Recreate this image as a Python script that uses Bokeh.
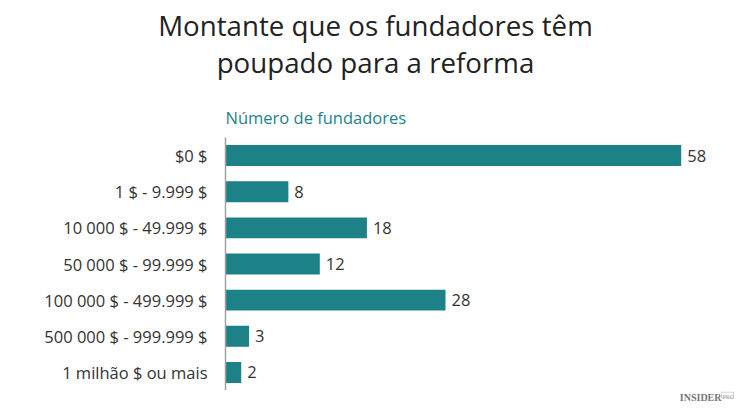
from bokeh.plotting import figure
from bokeh.layouts import column
from bokeh.models import FactorRange, Range1d, ColumnDataSource
from bokeh.core.properties import value
from bokeh.embed import file_html
from bokeh.resources import INLINE

categories = ["$0 $", "1 $ - 9.999 $", "10 000 $ - 49.999 $", "50 000 $ - 99.999 $",
              "100 000 $ - 499.999 $", "500 000 $ - 999.999 $", "1 milhão $ ou mais"]
founders = [58, 8, 18, 12, 28, 3, 2]
title_lines = ["Montante que os fundadores têm", "poupado para a reforma"]
subtitle = "Número de fundadores"
logo_main = "INSIDER"
logo_sup = "PRO"

FONT = "Open Sans"
TEAL = "#1c8287"
W = 742
TOP_H = 137
CHART_H = 253
FOOT_H = 13


def blank_fig(h):
    f = figure(width=W, height=h, output_backend="svg", toolbar_location=None,
               x_range=Range1d(0, W), y_range=Range1d(h, 0),
               min_border=0, min_border_left=0, min_border_right=0,
               min_border_top=0, min_border_bottom=0)
    f.frame_align = False
    f.axis.visible = False
    f.grid.visible = False
    f.outline_line_color = None
    return f

# ---------- header (titles) ----------
head = blank_fig(TOP_H)
head.text(x=[375, 375], y=[24, 61], text=title_lines, text_align="center",
          text_baseline="alphabetic", text_font=value(FONT), text_font_size="27.7px",
          text_color="#222222")
head.text(x=[225], y=[117], text=[subtitle], text_align="left", text_baseline="alphabetic",
          text_font=value(FONT), text_font_size="16.5px", text_color=TEAL)

# ---------- bar chart ----------
p = figure(width=W, height=CHART_H, output_backend="svg", toolbar_location=None,
           y_range=FactorRange(factors=list(reversed(categories)), range_padding=0),
           x_range=Range1d(0, 65.8),
           min_border_left=225, min_border_right=0, min_border_top=0, min_border_bottom=0)
p.frame_align = False
p.outline_line_color = None
p.grid.visible = False
p.xaxis.visible = False

src = ColumnDataSource(dict(cat=categories, val=founders, lab=[str(v) for v in founders]))
p.hbar(y="cat", right="val", left=0, height=0.58, source=src, color=TEAL, line_color=None)
p.text(x="val", y="cat", text="lab", source=src, x_offset=6, text_baseline="middle",
       text_font=value(FONT), text_font_size="16.5px", text_color="#333333")

ax = p.yaxis[0]
ax.axis_line_color = "#a0a0a0"
ax.axis_line_width = 1.5
ax.major_tick_line_color = None
ax.minor_tick_line_color = None
ax.major_tick_out = 0
ax.major_tick_in = 0
ax.major_label_standoff = 18
ax.major_label_text_font = FONT
ax.major_label_text_font_size = "16.5px"
ax.major_label_text_color = "#333333"

# ---------- footer (logo) ----------
foot = blank_fig(FOOT_H)
foot.text(x=[721], y=[7], text=[logo_main], text_align="right", text_baseline="alphabetic",
          text_font=value("Liberation Serif"), text_font_style="bold",
          text_font_size="10px", text_color="#777777")
foot.text(x=[722], y=[6.5], text=[logo_sup], text_align="left", text_baseline="alphabetic",
          text_font=value("Liberation Serif"), text_font_size="6px", text_color="#999999")
foot.rect(x=[727], y=[4.5], width=12, height=5.5, fill_color=None,
          line_color="#bbbbbb", line_width=0.6)

layout = column(head, p, foot, spacing=0)
open("out.html", "w").write(file_html(layout, INLINE))
